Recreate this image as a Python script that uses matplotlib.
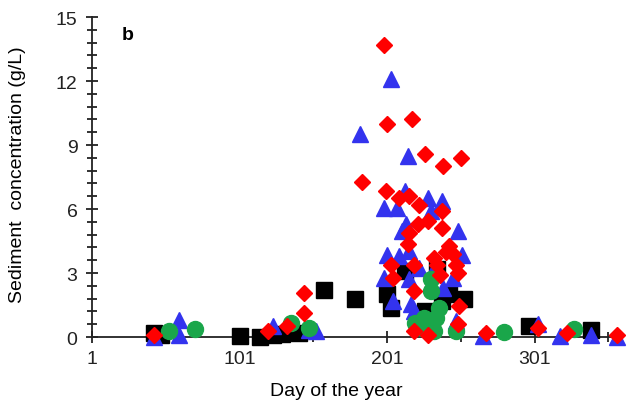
import matplotlib.pyplot as plt
from matplotlib.ticker import MultipleLocator, FixedLocator

plt.rcParams['font.family'] = ['Liberation Sans', 'DejaVu Sans']

# black squares
sq_day = [43, 48, 101, 115, 124, 130, 141, 158, 179, 201, 204, 213, 222, 227, 235, 238, 243, 253, 297, 339]
sq_val = [0.2, 0.1, 0.05, 0.0, 0.1, 0.15, 0.2, 2.2, 1.8, 2.0, 1.35, 3.1, 1.0, 1.2, 3.2, 1.7, 2.0, 1.8, 0.5, 0.35]

# blue triangles
tri_day = [43, 60, 60, 124, 148, 153, 183, 204, 199, 208, 201, 199, 205, 209, 211, 213, 215, 214,
           216, 216, 217, 219, 223, 229, 231, 238, 239, 232, 249, 252, 246, 248, 266, 303, 318, 339, 357]
tri_val = [0.0, 0.78, 0.12, 0.5, 0.35, 0.28, 9.5, 12.1, 6.05, 6.05, 3.87, 2.78, 1.69, 3.8, 4.97, 6.84, 8.48, 5.28,
           4.03, 2.7, 1.53, 1.22, 3.25, 6.53, 5.9, 6.37, 2.3, 3.1, 4.97, 3.87, 2.78, 0.75, 0.05, 0.6, 0.05, 0.12, 0.0]

# green circles
cir_day = [53, 71, 136, 148, 220, 226, 231, 231, 233, 234, 236, 229, 225, 248, 280, 328]
cir_val = [0.28, 0.36, 0.67, 0.44, 0.67, 0.9, 2.15, 2.7, 0.28, 0.9, 1.37, 0.44, 0.44, 0.28, 0.23, 0.36]

# red diamonds
dia_day = [43, 120, 133, 145, 145, 184, 199, 201, 200, 204, 205, 209, 216, 218, 215, 216, 222, 223, 219, 219,
           219, 227, 229, 229, 233, 235, 237, 238, 238, 239, 241, 243, 246, 248, 249, 250, 249, 251,
           268, 303, 323, 357]
dia_val = [0.12, 0.28, 0.52, 1.14, 2.08, 7.28, 13.67, 10.0, 6.84, 3.4, 2.78, 6.53, 6.6, 10.2, 4.34, 4.9, 5.28, 6.2, 3.4, 2.15,
           0.28, 8.6, 5.43, 0.1, 3.7, 3.4, 2.9, 5.12, 5.9, 8.0, 4.0, 4.25, 3.9, 3.4, 3.0, 1.45, 0.6, 8.4,
           0.2, 0.44, 0.2, 0.1]

fig = plt.figure(figsize=(6.3, 4.02), dpi=100)
ax = fig.add_axes([0.146, 0.159, 0.843, 0.796])

ax.plot(sq_day, sq_val, 's', color='black', ms=12, clip_on=False, zorder=3)
ax.plot(tri_day, tri_val, '^', color='#3333ee', ms=12, clip_on=False, zorder=3)
ax.plot(cir_day, cir_val, 'o', color='#1aa64a', ms=11.5, clip_on=False, zorder=3)
ax.plot(dia_day, dia_val, 'D', color='#ff0000', ms=8, clip_on=False, zorder=3)

ax.set_xlim(1, 361)
ax.set_ylim(0, 15)
ax.xaxis.set_major_locator(FixedLocator([1, 101, 201, 301]))
ax.xaxis.set_minor_locator(FixedLocator([51, 151, 251, 351]))
ax.yaxis.set_major_locator(MultipleLocator(3))
ax.yaxis.set_minor_locator(MultipleLocator(0.6))

for s in ['top', 'right']:
    ax.spines[s].set_visible(False)
for s in ['left', 'bottom']:
    ax.spines[s].set_linewidth(1.3)
    ax.spines[s].set_color('#222222')

ax.tick_params(which='major', direction='inout', length=9, width=1.3, labelsize=14, colors='#222222')
ax.tick_params(which='minor', direction='inout', length=7, width=1.3, colors='#222222')
ax.tick_params(axis='x', pad=5)
ax.tick_params(axis='y', pad=6)

ax.set_xlabel('Day of the year', fontsize=14)
ax.set_ylabel('Sediment  concentration (g/L)', fontsize=14)
ax.xaxis.set_label_coords(0.46, -0.14)
ax.yaxis.set_label_coords(-0.125, 0.51)
ax.text(25, 14.2, 'b', fontsize=14, fontweight='bold', ha='center', va='center')

fig.savefig('out.png', dpi=100)
